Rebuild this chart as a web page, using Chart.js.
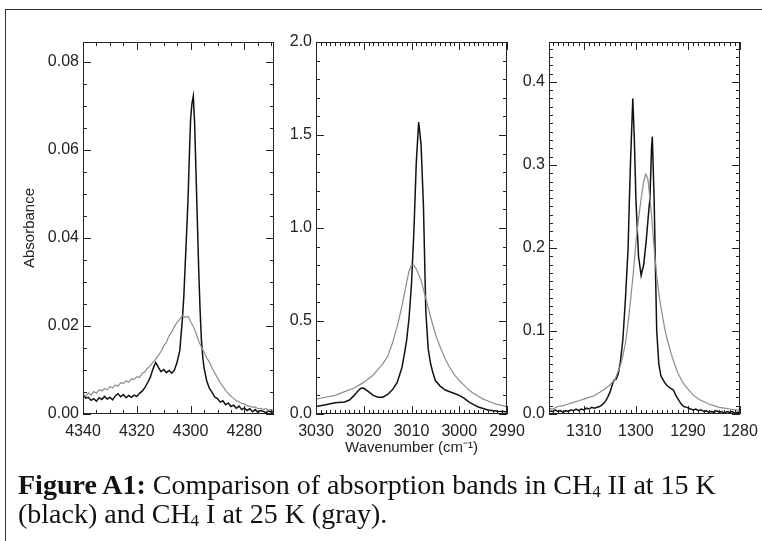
<!DOCTYPE html>
<html>
<head>
<meta charset="utf-8">
<script src="https://cdn.jsdelivr.net/npm/chart.js"></script>
<style>
  body { margin: 0; background: #fff; width: 762px; height: 541px; overflow: hidden; position: relative; }
  .frame { position: absolute; left: 5px; top: 9px; width: 800px; height: 600px; border-left: 1.5px solid #333; border-top: 1.5px solid #333; }
  canvas { position: absolute; top: 0; }
  .caption { position: absolute; left: 18px; top: 470px; font-family: "Liberation Serif", serif; font-size: 28px; line-height: 29px; color: #111; white-space: nowrap; }
  .caption sub { font-size: 17px; vertical-align: -3px; line-height: 0; }
</style>
</head>
<body>
<div class="frame"></div>
<canvas id="p1" width="298" height="470" style="left:0px"></canvas>
<canvas id="p2" width="249" height="470" style="left:278px"></canvas>
<canvas id="p3" width="249" height="470" style="left:511px"></canvas>
<div class="caption"><b>Figure A1:</b> Comparison of absorption bands in CH<sub>4</sub> II at 15 K<br>(black) and CH<sub>4</sub> I at 25 K (gray).</div>
<script>
// panel 1: 4300 band
const wnBlack1 = [4340, 4339, 4338, 4337, 4336, 4335, 4334, 4333, 4332, 4331, 4330, 4329, 4328, 4327, 4326, 4325, 4324, 4323, 4322, 4321, 4320, 4319, 4318, 4317, 4316, 4315, 4314, 4313, 4312.5, 4312, 4311, 4310, 4309, 4308, 4307, 4306, 4305, 4304, 4303, 4302.5, 4302, 4301.5, 4301, 4300.5, 4300, 4299.5, 4299, 4298.5, 4298, 4297.5, 4297, 4296.5, 4296, 4295.5, 4295, 4294, 4293, 4292, 4291, 4290, 4289, 4288, 4287, 4286, 4285, 4284, 4283, 4282, 4281, 4280, 4279, 4278, 4277, 4276, 4275, 4274, 4273, 4272, 4271, 4270, 4269]
const black1 = [0.0045, 0.0036, 0.0038, 0.0031, 0.0035, 0.0029, 0.0037, 0.0033, 0.0040, 0.0034, 0.0038, 0.0032, 0.0041, 0.0046, 0.0039, 0.0044, 0.0037, 0.0042, 0.0038, 0.0043, 0.0040, 0.0047, 0.0052, 0.0060, 0.0071, 0.0083, 0.0102, 0.0117, 0.0112, 0.0106, 0.0096, 0.0101, 0.0094, 0.0099, 0.0093, 0.0100, 0.0118, 0.0145, 0.022, 0.027, 0.034, 0.041, 0.048, 0.058, 0.067, 0.0705, 0.0722, 0.066, 0.055, 0.044, 0.033, 0.024, 0.017, 0.013, 0.0105, 0.0075, 0.0058, 0.0049, 0.0038, 0.0035, 0.0027, 0.0030, 0.0021, 0.0025, 0.0017, 0.0020, 0.0013, 0.0018, 0.0010, 0.0014, 0.0008, 0.0012, 0.0005, 0.0010, 0.0004, 0.0008, 0.0006, 0.0003, 0.0007, 0.0004, 0.0006]
const wnGray1 = [4340, 4339, 4338, 4337, 4336, 4335, 4334, 4333, 4332, 4331, 4330, 4329, 4328, 4327, 4326, 4325, 4324, 4323, 4322, 4321, 4320, 4319, 4318, 4317, 4316, 4315, 4314, 4313, 4312, 4311, 4310, 4309, 4308, 4307, 4306, 4305, 4304, 4303, 4302, 4301, 4300, 4299, 4298, 4297, 4296, 4295, 4294, 4293, 4292, 4291, 4290, 4289, 4288, 4287, 4286, 4285, 4284, 4283, 4282, 4281, 4280, 4279, 4278, 4277, 4276, 4275, 4274, 4273, 4272, 4271, 4270, 4269]
const gray1 = [0.0045, 0.0040, 0.0048, 0.0043, 0.0051, 0.0047, 0.0055, 0.0052, 0.0058, 0.0055, 0.0062, 0.0059, 0.0066, 0.0063, 0.0071, 0.0069, 0.0075, 0.0072, 0.0080, 0.0078, 0.0085, 0.0083, 0.0092, 0.0096, 0.0104, 0.0110, 0.0118, 0.0124, 0.0133, 0.0142, 0.0155, 0.0163, 0.0178, 0.0186, 0.0199, 0.0208, 0.0216, 0.0224, 0.0219, 0.0222, 0.0210, 0.0199, 0.0184, 0.0166, 0.0152, 0.0140, 0.0127, 0.0118, 0.0104, 0.0093, 0.0082, 0.0071, 0.0063, 0.0053, 0.0047, 0.0040, 0.0035, 0.0030, 0.0028, 0.0024, 0.0023, 0.0019, 0.0018, 0.0015, 0.0016, 0.0012, 0.0013, 0.0010, 0.0012, 0.0009, 0.0010, 0.0008]
const xTicks1 = [4340, 4320, 4300, 4280]
const yTicks1 = [0, 0.02, 0.04, 0.06, 0.08]

// panel 2: 3010 band
const wnBlack2 = [3030, 3028, 3026, 3024, 3023, 3022, 3021, 3020.5, 3020, 3019, 3018, 3017, 3016, 3015, 3014, 3013, 3012, 3011.5, 3011, 3010.5, 3010, 3009.5, 3009, 3008.5, 3008, 3007.5, 3007, 3006.5, 3006, 3005.5, 3005, 3004, 3003, 3002, 3001, 3000, 2999, 2998, 2997, 2996, 2995, 2994, 2992, 2990]
const black2 = [0.04, 0.05, 0.06, 0.065, 0.075, 0.10, 0.13, 0.14, 0.138, 0.12, 0.10, 0.09, 0.09, 0.105, 0.13, 0.17, 0.25, 0.32, 0.40, 0.52, 0.70, 0.98, 1.35, 1.57, 1.45, 1.12, 0.55, 0.35, 0.27, 0.22, 0.18, 0.15, 0.13, 0.12, 0.11, 0.10, 0.085, 0.065, 0.05, 0.038, 0.03, 0.022, 0.015, 0.012]
const wnGray2 = [3030, 3028, 3026, 3024, 3022, 3020, 3018, 3017, 3016, 3015, 3014, 3013, 3012, 3011, 3010.5, 3010, 3009.5, 3009, 3008, 3007, 3006, 3005, 3004, 3003, 3002, 3001, 3000, 2999, 2998, 2997, 2996, 2995, 2994, 2993, 2992, 2991, 2990]
const gray2 = [0.08, 0.09, 0.10, 0.12, 0.14, 0.17, 0.21, 0.24, 0.27, 0.31, 0.38, 0.47, 0.58, 0.71, 0.77, 0.80, 0.80, 0.78, 0.72, 0.62, 0.52, 0.43, 0.36, 0.30, 0.25, 0.21, 0.18, 0.155, 0.13, 0.11, 0.095, 0.08, 0.07, 0.06, 0.052, 0.045, 0.04]
const xTicks2 = [3030, 3020, 3010, 3000, 2990]
const yTicks2 = [0, 0.5, 1.0, 1.5, 2.0]

// panel 3: 1300 band
const wnBlack3 = [1316.7, 1316, 1315.5, 1315, 1314.5, 1314, 1313.5, 1313, 1312.5, 1312, 1311.5, 1311, 1310.5, 1310, 1309.5, 1309, 1308.5, 1308, 1307, 1306.5, 1306, 1305.5, 1305, 1304.5, 1304.2, 1303.8, 1303.4, 1303, 1302.5, 1302, 1301.5, 1301.25, 1301, 1300.6, 1300.3, 1300, 1299.5, 1299, 1298.5, 1298, 1297.6, 1297.3, 1297, 1296.85, 1296.5, 1296.2, 1296, 1295.6, 1295.2, 1294.5, 1294, 1293.3, 1292.8, 1292.3, 1291.8, 1291.3, 1290.8, 1290.2, 1289.5, 1289, 1288.5, 1288, 1287.5, 1287, 1286.5, 1286, 1285.5, 1285, 1284.5, 1284, 1283.5, 1283, 1282.5, 1282, 1281.5, 1281, 1280.5, 1280]
const black3 = [0.004, 0.003, 0.005, 0.003, 0.004, 0.002, 0.004, 0.003, 0.005, 0.004, 0.006, 0.004, 0.006, 0.005, 0.007, 0.006, 0.008, 0.007, 0.009, 0.011, 0.014, 0.019, 0.026, 0.036, 0.041, 0.042, 0.048, 0.062, 0.09, 0.14, 0.20, 0.259, 0.31, 0.38, 0.33, 0.259, 0.19, 0.167, 0.18, 0.21, 0.24, 0.26, 0.32, 0.334, 0.259, 0.16, 0.10, 0.06, 0.046, 0.038, 0.034, 0.031, 0.029, 0.022, 0.017, 0.012, 0.009, 0.008, 0.006, 0.005, 0.006, 0.004, 0.005, 0.003, 0.004, 0.002, 0.003, 0.002, 0.004, 0.002, 0.003, 0.001, 0.003, 0.002, 0.003, 0.001, 0.002, 0.002]
const wnGray3 = [1316.7, 1316, 1315, 1314, 1313, 1312, 1311, 1310, 1309, 1308, 1307, 1306, 1305, 1304, 1303, 1302.5, 1302, 1301.5, 1301, 1300.5, 1300, 1299.5, 1299, 1298.5, 1298.1, 1297.7, 1297.3, 1297, 1296.5, 1296, 1295.5, 1295, 1294.5, 1294, 1293, 1292, 1291, 1290, 1289, 1288, 1287, 1286, 1285, 1284, 1283, 1282, 1281, 1280]
const gray3 = [0.007, 0.006, 0.009, 0.010, 0.012, 0.014, 0.016, 0.018, 0.020, 0.022, 0.026, 0.030, 0.035, 0.042, 0.058, 0.07, 0.086, 0.11, 0.139, 0.17, 0.207, 0.235, 0.259, 0.28, 0.289, 0.283, 0.26, 0.239, 0.20, 0.166, 0.14, 0.122, 0.104, 0.09, 0.068, 0.05, 0.038, 0.03, 0.023, 0.018, 0.015, 0.012, 0.01, 0.008, 0.007, 0.006, 0.005, 0.005]
const xTicks3 = [1310, 1300, 1290, 1280]
const yTicks3 = [0, 0.1, 0.2, 0.3, 0.4]

const pts = (xs, ys) => xs.map((x, i) => ({x: x, y: ys[i]}))

// frame + inward ticks on all four sides, IDL style
const boxTicks = {
  id: 'boxTicks',
  afterDatasetsDraw(chart, args, o) {
    const {ctx, chartArea: a, scales: {x, y}} = chart
    ctx.save()
    ctx.strokeStyle = '#222'
    ctx.lineWidth = 1
    ctx.strokeRect(a.left + 0.5, a.top + 0.5, a.right - a.left - 1, a.bottom - a.top - 1)
    ctx.beginPath()
    const tick = (v, len, horiz) => {
      if (horiz) {
        const px = Math.round(x.getPixelForValue(v)) + 0.5
        ctx.moveTo(px, a.bottom); ctx.lineTo(px, a.bottom - len)
        ctx.moveTo(px, a.top); ctx.lineTo(px, a.top + len)
      } else {
        const py = Math.round(y.getPixelForValue(v)) + 0.5
        ctx.moveTo(a.left, py); ctx.lineTo(a.left + len, py)
        ctx.moveTo(a.right, py); ctx.lineTo(a.right - len, py)
      }
    }
    const nx = Math.round((x.max - x.min) / o.xMinor)
    for (let i = 0; i <= nx; i++) {
      const v = Math.ceil(x.min / o.xMinor) * o.xMinor + i * o.xMinor
      if (v <= x.max) tick(v, 4, true)
    }
    const ny = Math.round((y.max - y.min) / o.yMinor)
    for (let i = 0; i <= ny; i++) {
      const v = y.min + i * o.yMinor
      if (v <= y.max + 1e-9) tick(v, 4, false)
    }
    o.xMajor.forEach(v => tick(v, 8, true))
    o.yMajor.forEach(v => tick(v, 8, false))
    ctx.stroke()
    ctx.restore()
  }
}

function panel(id, p) {
  return new Chart(document.getElementById(id), {
    type: 'scatter',
    data: {
      datasets: [
        { data: pts(p.wnGray, p.gray), borderColor: '#8c8c8c', borderWidth: 1.2 },
        { data: pts(p.wnBlack, p.black), borderColor: '#111', borderWidth: 1.5 }
      ]
    },
    options: {
      responsive: false,
      animation: false,
      showLine: true,
      elements: { point: { radius: 0 }, line: { tension: 0 } },
      plugins: { legend: { display: false }, tooltip: { enabled: false }, boxTicks: p.box },
      layout: { padding: { top: 42, right: p.padRight, left: 0, bottom: 0 } },
      scales: {
        x: {
          type: 'linear', reverse: true, min: p.xMin, max: p.xMax,
          grid: { display: false, drawTicks: false }, border: { display: false },
          afterBuildTicks: s => { s.ticks = p.xTicks.map(v => ({value: v})) },
          afterFit: s => { s.height = 56; s.paddingLeft = 0; s.paddingRight = 0 },
          ticks: { padding: 8, color: '#222', font: { family: 'Liberation Sans', size: 16 }, maxRotation: 0, autoSkip: false, callback: v => String(v) },
          title: { display: !!p.xTitle, text: p.xTitle, color: '#222', font: { family: 'Liberation Sans', size: 15 }, padding: { top: 0, bottom: 13 } }
        },
        y: {
          min: 0, max: p.yMax,
          grid: { display: false, drawTicks: false }, border: { display: false },
          afterBuildTicks: s => { s.ticks = p.yTicks.map(v => ({value: v})) },
          afterFit: s => { s.width = p.yWidth; s.paddingTop = 0; s.paddingBottom = 0 },
          ticks: { padding: 4, color: '#222', font: { family: 'Liberation Sans', size: 16 }, autoSkip: false, callback: v => v.toFixed(p.dec) },
          title: { display: !!p.yTitle, text: p.yTitle, color: '#222', font: { family: 'Liberation Sans', size: 15 }, padding: { top: 21, bottom: 0 } }
        }
      }
    },
    plugins: [boxTicks]
  })
}

panel('p1', {
  wnBlack: wnBlack1, black: black1, wnGray: wnGray1, gray: gray1,
  xTicks: xTicks1, yTicks: yTicks1, xMin: 4269, xMax: 4340, yMax: 0.0845, dec: 2,
  yWidth: 83, padRight: 24, yTitle: 'Absorbance',
  box: { xMajor: xTicks1, yMajor: yTicks1, xMinor: 5, yMinor: 0.005 }
})
panel('p2', {
  wnBlack: wnBlack2, black: black2, wnGray: wnGray2, gray: gray2,
  xTicks: xTicks2, yTicks: yTicks2, xMin: 2990, xMax: 3030, yMax: 2.0, dec: 1,
  yWidth: 38, padRight: 20, xTitle: 'Wavenumber (cm\u207B\u00B9)',
  box: { xMajor: xTicks2, yMajor: yTicks2, xMinor: 1, yMinor: 0.1 }
})
panel('p3', {
  wnBlack: wnBlack3, black: black3, wnGray: wnGray3, gray: gray3,
  xTicks: xTicks3, yTicks: yTicks3, xMin: 1280, xMax: 1316.7, yMax: 0.448, dec: 1,
  yWidth: 38, padRight: 20,
  box: { xMajor: xTicks3, yMajor: yTicks3, xMinor: 1, yMinor: 0.01 }
})
</script>
</body>
</html>
